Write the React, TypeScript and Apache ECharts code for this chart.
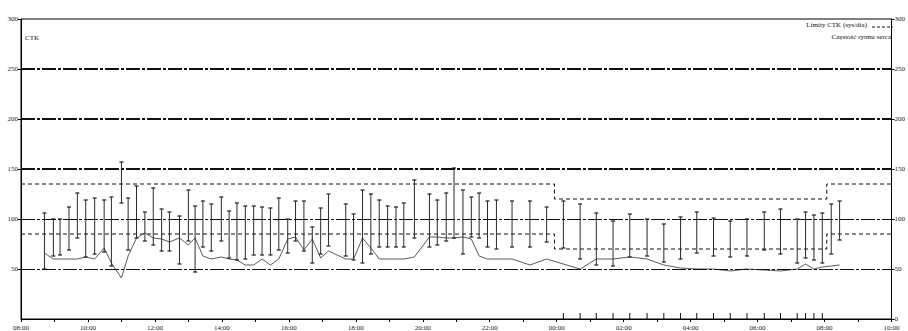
import React, { useEffect, useRef } from "react";
import * as echarts from "echarts";

// Measurement times (day rolls over after midnight)
const times = ["08:42","08:58","09:10","09:26","09:41","09:56","10:12","10:29","10:42","11:00","11:12","11:27","11:42","11:57","12:12","12:26","12:44","13:00","13:12","13:26","13:41","13:59","14:13","14:27","14:42","14:57","15:12","15:27","15:42","15:58","16:12","16:27","16:42","16:57","17:11","17:42","17:56","18:12","18:27","18:42","18:57","19:12","19:26","19:45","20:12","20:26","20:42","20:56","21:12","21:27","21:41","21:56","22:12","22:40","23:12","23:42","00:12","00:42","01:11","01:41","02:11","02:42","03:12","03:42","04:11","04:41","05:11","05:41","06:12","06:41","07:11","07:26","07:41","07:56","08:12","08:27"];
const systolic = [106,100,100,112,126,119,121,119,122,157,121,133,107,131,110,107,103,129,113,118,115,122,108,116,113,113,112,111,121,100,118,118,92,111,125,115,105,129,125,119,113,112,116,139,125,119,126,151,129,122,126,118,119,118,118,112,118,115,106,98,105,100,95,102,107,101,98,100,107,110,100,107,104,106,115,118];
const diastolic = [50,63,64,69,81,62,65,67,53,116,69,81,78,74,68,68,55,78,47,72,68,78,61,59,60,64,64,64,69,66,78,68,56,65,73,63,59,56,65,72,72,72,72,81,72,74,78,81,65,82,81,72,70,72,72,77,71,60,54,53,62,63,57,60,66,63,62,63,69,65,56,61,59,56,65,79];
const heartRate = [66,60,60,60,60,62,60,71,56,41,63,81,86,81,80,77,81,74,81,63,60,62,60,59,54,54,60,54,60,80,82,69,80,61,68,60,60,81,71,60,60,60,60,62,82,82,81,81,82,80,63,60,60,60,54,60,55,50,60,60,62,60,54,51,50,50,48,50,49,48,50,55,50,52,53,54];

// CTK limits (step changes)
const limitTimes = ["08:00","23:56","08:04","10:00"];
const sysLimits = [135,120,135,135];
const diaLimits = [85,70,85,85];

// Reference levels and axis ticks
const refLevels = [50,100,150,200,250];
const yTicks = [0,50,100,150,200,250,300];
const axisStartHour = 8;
const axisEndHour = 34;

const toHours = (list: string[]) => {
  let offset = 0;
  let prev = -Infinity;
  return list.map((s) => {
    const [hh, mm] = s.split(":").map(Number);
    let v = hh + mm / 60 + offset;
    if (v < prev) { offset += 24; v += 24; }
    prev = v;
    return v;
  });
};

const FONT = "Liberation Serif";

export default function App() {
  const ref = useRef<HTMLDivElement>(null);
  useEffect(() => {
    if (!ref.current) return;
    const chart = echarts.init(ref.current, undefined, { renderer: "svg" });
    const th = toHours(times);
    const lh = toHours(limitTimes);
    const nightStart = lh[1];
    const nightEnd = lh[2];
    const bars = th.map((t, i) => [t, systolic[i], diastolic[i]]);
    const hrData = th.map((t, i) => [t, heartRate[i]]);
    const markers = th.filter((t) => t > nightStart && t < nightEnd).map((t) => [t, 0]);
    const sysLim = lh.map((t, i) => [t, sysLimits[i]]);
    const diaLim = lh.map((t, i) => [t, diaLimits[i]]);
    const fmt = (v: number) => {
      const h = Math.round(v);
      if (h % 2 !== 0) return "";
      return String(h % 24).padStart(2, "0") + ":00";
    };
    const yAxisBase = {
      type: "value",
      min: yTicks[0],
      max: yTicks[yTicks.length - 1],
      interval: 50,
      axisLine: { show: true, lineStyle: { color: "#000", width: 1 } },
      axisTick: { show: true, length: 3, lineStyle: { color: "#000" } },
      splitLine: { show: false },
    };
    const ts = { fontFamily: FONT, fontSize: 7, fontWeight: "normal", color: "#111" };
    const option: any = {
      animation: false,
      backgroundColor: "#fff",
      title: [
        { text: "CTK", left: 25, top: 34, padding: 0, textStyle: ts },
        { text: "Limity CTK (sys/dia)", right: 41, top: 21, padding: 0, textStyle: ts },
        { text: "Częstość rytmu serca", right: 17, top: 33, padding: 0, textStyle: ts },
      ],
      grid: { left: 21, right: 15, top: 19, bottom: 10, show: true, borderColor: "#000", borderWidth: 1, backgroundColor: "transparent" },
      xAxis: {
        type: "value",
        min: axisStartHour,
        max: axisEndHour,
        interval: 1,
        axisLine: { show: true, lineStyle: { color: "#000", width: 1 } },
        axisTick: { show: true, length: 3, lineStyle: { color: "#000" } },
        axisLabel: { formatter: fmt, fontFamily: FONT, fontSize: 7, color: "#1a1a1a", margin: 5, showMinLabel: true, showMaxLabel: true },
        splitLine: { show: false },
      },
      yAxis: [
        { ...yAxisBase, position: "left", axisLabel: { fontFamily: FONT, fontSize: 7, color: "#1a1a1a", margin: 3, showMinLabel: false } },
        { ...yAxisBase, position: "right", axisLabel: { fontFamily: FONT, fontSize: 7, color: "#1a1a1a", margin: 3, showMinLabel: true } },
      ],
      graphic: [
        { type: "line", silent: true, shape: { x1: 872, y1: 27, x2: 893, y2: 27 }, style: { stroke: "#111", lineWidth: 1, lineDash: [3, 2] } },
      ],
      series: [
        {
          type: "line",
          name: "sysLimit",
          data: sysLim,
          step: "end",
          symbol: "none",
          z: 2,
          lineStyle: { color: "#111", width: 1, type: [4, 3] },
          markLine: {
            silent: true,
            symbol: ["none", "none"],
            label: { show: false },
            data: refLevels.map((v) => ({
              yAxis: v,
              lineStyle: { color: "#111", width: v >= 150 ? 1.8 : 1.1, type: [14, 2, 3, 2] },
            })),
          },
        },
        {
          type: "line",
          name: "diaLimit",
          data: diaLim,
          step: "end",
          symbol: "none",
          z: 2,
          lineStyle: { color: "#111", width: 1, type: [4, 3] },
        },
        {
          type: "line",
          name: "hr",
          data: hrData,
          symbol: "none",
          z: 3,
          lineStyle: { color: "#5a5a5a", width: 1 },
        },
        {
          type: "custom",
          name: "bp",
          data: bars,
          z: 4,
          encode: { x: 0, y: [1, 2] },
          renderItem: (params: any, api: any) => {
            const t = api.value(0);
            const top = api.coord([t, api.value(1)]);
            const bot = api.coord([t, api.value(2)]);
            const hw = 2;
            const st = { stroke: "#2a2a2a", lineWidth: 1 };
            return {
              type: "group",
              children: [
                { type: "line", shape: { x1: top[0], y1: top[1], x2: bot[0], y2: bot[1] }, style: st },
                { type: "line", shape: { x1: top[0] - hw, y1: top[1], x2: top[0] + hw, y2: top[1] }, style: { ...st, lineWidth: 1.3 } },
                { type: "line", shape: { x1: bot[0] - hw, y1: bot[1], x2: bot[0] + hw, y2: bot[1] }, style: { ...st, lineWidth: 1.3 } },
              ],
            };
          },
        },
        {
          type: "custom",
          name: "nightMarks",
          data: markers,
          z: 4,
          encode: { x: 0, y: 1 },
          renderItem: (params: any, api: any) => {
            const p = api.coord([api.value(0), api.value(1)]);
            return { type: "line", shape: { x1: p[0], y1: p[1], x2: p[0], y2: p[1] - 6 }, style: { stroke: "#111", lineWidth: 1 } };
          },
        },
      ],
    };
    chart.setOption(option);
    return () => chart.dispose();
  }, []);
  return (
    <div
      ref={ref}
      style={{ position: "fixed", left: 0, top: 0, width: 908, height: 331, background: "#fff" }}
    />
  );
}
